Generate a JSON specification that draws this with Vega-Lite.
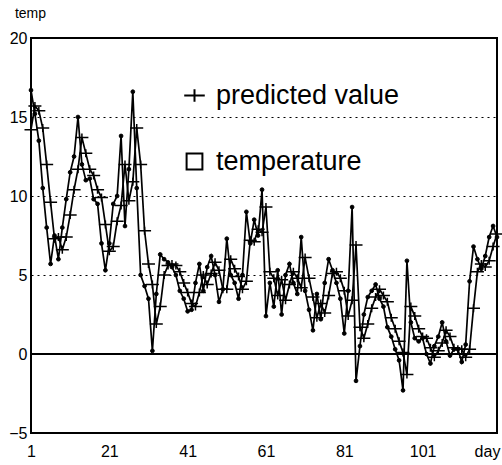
{
"$schema": "https://vega.github.io/schema/vega-lite/v6.json",
"width": 466, "height": 395,
"autosize": {"type": "none"},
"padding": {"left": 31, "top": 38, "right": 5, "bottom": 32},
"background": "white",
"config": {"view": {"stroke": "black", "strokeWidth": 2}, "font": "Liberation Sans"},
"data": {"values": [
{"day":1,"temperature":16.7,"predicted value":14.2},
{"day":2,"temperature":15.2,"predicted value":15.7},
{"day":3,"temperature":13.5,"predicted value":15.4},
{"day":4,"temperature":10.5,"predicted value":14.3},
{"day":5,"temperature":8.0,"predicted value":12.0},
{"day":6,"temperature":5.7,"predicted value":9.6},
{"day":7,"temperature":7.5,"predicted value":7.3},
{"day":8,"temperature":6.0,"predicted value":7.4},
{"day":9,"temperature":8.0,"predicted value":6.6},
{"day":10,"temperature":9.8,"predicted value":7.4},
{"day":11,"temperature":11.5,"predicted value":8.8},
{"day":12,"temperature":12.5,"predicted value":10.4},
{"day":13,"temperature":15.0,"predicted value":11.7},
{"day":14,"temperature":12.0,"predicted value":13.7},
{"day":15,"temperature":11.0,"predicted value":12.7},
{"day":16,"temperature":11.1,"predicted value":11.7},
{"day":17,"temperature":9.8,"predicted value":11.3},
{"day":18,"temperature":9.5,"predicted value":10.4},
{"day":19,"temperature":7.0,"predicted value":9.9},
{"day":20,"temperature":5.3,"predicted value":8.2},
{"day":21,"temperature":7.0,"predicted value":6.5},
{"day":22,"temperature":9.5,"predicted value":6.8},
{"day":23,"temperature":10.0,"predicted value":8.4},
{"day":24,"temperature":13.8,"predicted value":9.4},
{"day":25,"temperature":8.1,"predicted value":12.0},
{"day":26,"temperature":11.7,"predicted value":9.7},
{"day":27,"temperature":16.6,"predicted value":10.9},
{"day":28,"temperature":10.5,"predicted value":14.3},
{"day":29,"temperature":5.0,"predicted value":12.0},
{"day":30,"temperature":4.3,"predicted value":7.8},
{"day":31,"temperature":3.5,"predicted value":5.7},
{"day":32,"temperature":0.2,"predicted value":4.4},
{"day":33,"temperature":3.8,"predicted value":1.9},
{"day":34,"temperature":6.3,"predicted value":3.0},
{"day":35,"temperature":6.0,"predicted value":5.0},
{"day":36,"temperature":5.8,"predicted value":5.6},
{"day":37,"temperature":5.5,"predicted value":5.7},
{"day":38,"temperature":5.0,"predicted value":5.6},
{"day":39,"temperature":4.0,"predicted value":5.2},
{"day":40,"temperature":3.5,"predicted value":4.5},
{"day":41,"temperature":2.7,"predicted value":3.9},
{"day":42,"temperature":2.8,"predicted value":3.2},
{"day":43,"temperature":4.5,"predicted value":3.0},
{"day":44,"temperature":5.7,"predicted value":3.9},
{"day":45,"temperature":4.0,"predicted value":5.0},
{"day":46,"temperature":5.5,"predicted value":4.4},
{"day":47,"temperature":6.2,"predicted value":5.1},
{"day":48,"temperature":5.0,"predicted value":5.8},
{"day":49,"temperature":3.3,"predicted value":5.3},
{"day":50,"temperature":4.1,"predicted value":4.1},
{"day":51,"temperature":7.3,"predicted value":4.1},
{"day":52,"temperature":5.0,"predicted value":6.0},
{"day":53,"temperature":4.5,"predicted value":5.4},
{"day":54,"temperature":3.5,"predicted value":4.9},
{"day":55,"temperature":5.0,"predicted value":4.1},
{"day":56,"temperature":9.0,"predicted value":4.6},
{"day":57,"temperature":7.0,"predicted value":7.2},
{"day":58,"temperature":8.5,"predicted value":7.1},
{"day":59,"temperature":7.5,"predicted value":7.9},
{"day":60,"temperature":10.4,"predicted value":7.7},
{"day":61,"temperature":2.4,"predicted value":9.3},
{"day":62,"temperature":4.5,"predicted value":5.2},
{"day":63,"temperature":3.0,"predicted value":4.8},
{"day":64,"temperature":5.3,"predicted value":3.7},
{"day":65,"temperature":2.5,"predicted value":4.7},
{"day":66,"temperature":5.0,"predicted value":3.4},
{"day":67,"temperature":5.7,"predicted value":4.4},
{"day":68,"temperature":4.5,"predicted value":5.2},
{"day":69,"temperature":3.8,"predicted value":4.8},
{"day":70,"temperature":7.4,"predicted value":4.2},
{"day":71,"temperature":4.0,"predicted value":6.1},
{"day":72,"temperature":2.8,"predicted value":4.8},
{"day":73,"temperature":1.5,"predicted value":3.6},
{"day":74,"temperature":3.8,"predicted value":2.3},
{"day":75,"temperature":2.2,"predicted value":3.2},
{"day":76,"temperature":4.5,"predicted value":2.6},
{"day":77,"temperature":6.0,"predicted value":3.7},
{"day":78,"temperature":5.3,"predicted value":5.1},
{"day":79,"temperature":4.5,"predicted value":5.2},
{"day":80,"temperature":3.5,"predicted value":4.8},
{"day":81,"temperature":1.3,"predicted value":4.0},
{"day":82,"temperature":4.0,"predicted value":2.4},
{"day":83,"temperature":9.3,"predicted value":3.4},
{"day":84,"temperature":-1.7,"predicted value":6.9},
{"day":85,"temperature":0.5,"predicted value":1.7},
{"day":86,"temperature":2.5,"predicted value":1.0},
{"day":87,"temperature":3.6,"predicted value":1.9},
{"day":88,"temperature":4.0,"predicted value":2.9},
{"day":89,"temperature":4.4,"predicted value":3.6},
{"day":90,"temperature":3.5,"predicted value":4.1},
{"day":91,"temperature":3.0,"predicted value":3.7},
{"day":92,"temperature":1.7,"predicted value":3.3},
{"day":93,"temperature":1.1,"predicted value":2.3},
{"day":94,"temperature":0.3,"predicted value":1.6},
{"day":95,"temperature":-0.4,"predicted value":0.8},
{"day":96,"temperature":-2.3,"predicted value":0.1},
{"day":97,"temperature":5.9,"predicted value":-1.3},
{"day":98,"temperature":2.0,"predicted value":3.0},
{"day":99,"temperature":1.0,"predicted value":2.4},
{"day":100,"temperature":0.8,"predicted value":1.6},
{"day":101,"temperature":1.0,"predicted value":1.1},
{"day":102,"temperature":0.0,"predicted value":1.0},
{"day":103,"temperature":-0.6,"predicted value":0.4},
{"day":104,"temperature":0.5,"predicted value":-0.2},
{"day":105,"temperature":1.1,"predicted value":0.2},
{"day":106,"temperature":2.0,"predicted value":0.7},
{"day":107,"temperature":0.8,"predicted value":1.5},
{"day":108,"temperature":-0.1,"predicted value":1.1},
{"day":109,"temperature":0.3,"predicted value":0.4},
{"day":110,"temperature":0.3,"predicted value":0.3},
{"day":111,"temperature":-0.5,"predicted value":0.3},
{"day":112,"temperature":0.6,"predicted value":-0.2},
{"day":113,"temperature":4.6,"predicted value":0.3},
{"day":114,"temperature":6.8,"predicted value":2.9},
{"day":115,"temperature":6.0,"predicted value":5.2},
{"day":116,"temperature":5.4,"predicted value":5.7},
{"day":117,"temperature":6.2,"predicted value":5.5},
{"day":118,"temperature":7.4,"predicted value":5.9},
{"day":119,"temperature":8.1,"predicted value":6.8},
{"day":120,"temperature":7.4,"predicted value":7.6}
]},
"transform": [{"fold": ["predicted value", "temperature"], "as": ["series", "value"]}],
"encoding": {
  "x": {"field": "day", "type": "quantitative",
        "scale": {"domain": [1, 120], "nice": false, "zero": false},
        "axis": {"values": [1, 21, 41, 61, 81, 101], "grid": false, "ticks": false, "domain": false,
                 "labelFontSize": 16, "labelColor": "black", "labelPadding": 10, "labelFlush": false,
                 "title": "day", "titleFontSize": 16, "titleFontWeight": "normal", "titleColor": "black",
                 "titleX": 456, "titleY": 10, "titleBaseline": "top", "titleAlign": "center"}},
  "y": {"field": "value", "type": "quantitative",
        "scale": {"domain": [-5, 20], "nice": false, "zero": false},
        "axis": {"values": [-5, 0, 5, 10, 15, 20], "grid": true, "gridDash": [2, 4], "gridColor": "black",
                 "gridOpacity": 1, "gridWidth": 1.2, "ticks": false, "domain": false,
                 "labelFontSize": 16, "labelColor": "black", "labelPadding": 4,
                 "title": "temp", "titleAngle": 0, "titleFontSize": 14, "titleFontWeight": "normal",
                 "titleColor": "black", "titleX": -1, "titleY": -25, "titleAlign": "center", "titleBaseline": "middle"}}
},
"layer": [
  {"mark": {"type": "rule", "color": "black", "strokeWidth": 1.5}, "encoding": {"y": {"datum": 0}, "x": {"value": 0}, "x2": {"value": 466}}},
  {"mark": {"type": "line", "color": "black", "strokeWidth": 1.7},
   "encoding": {"detail": {"field": "series"}}},
  {"transform": [{"filter": "datum.series === 'predicted value'"}],
   "mark": {"type": "point", "filled": false, "stroke": "black", "strokeWidth": 1.5, "opacity": 1, "size": 100},
   "encoding": {
     "shape": {"field": "series", "type": "nominal",
               "scale": {"domain": ["predicted value", "temperature"], "range": ["M-1.3,0H1.3M0,-0.8V0.8", "square"]},
               "legend": {"orient": "none", "legendX": 150, "legendY": 44, "title": null,
                          "labelFontSize": 27, "labelColor": "black", "labelFont": "Liberation Sans",
                          "labelLimit": 0, "labelOffset": 8, "rowPadding": 38, "symbolSize": 250, "symbolStrokeWidth": 2,
                          "symbolFillColor": "transparent", "symbolStrokeColor": "black",
                          "labelExpr": "datum.value == 'temperature' ? '\u2002\u2002temperature' : 'predicted value'",
                          "encode": {"symbols": {"update": {
                             "size": {"signal": "datum.value == 'temperature' ? 120 : 250"}}}}}}
   }},
  {"transform": [{"filter": "datum.series === 'temperature'"}],
   "mark": {"type": "point", "shape": "circle", "filled": true, "fill": "black", "stroke": "black", "strokeWidth": 1, "opacity": 1, "size": 14}}
]
}
